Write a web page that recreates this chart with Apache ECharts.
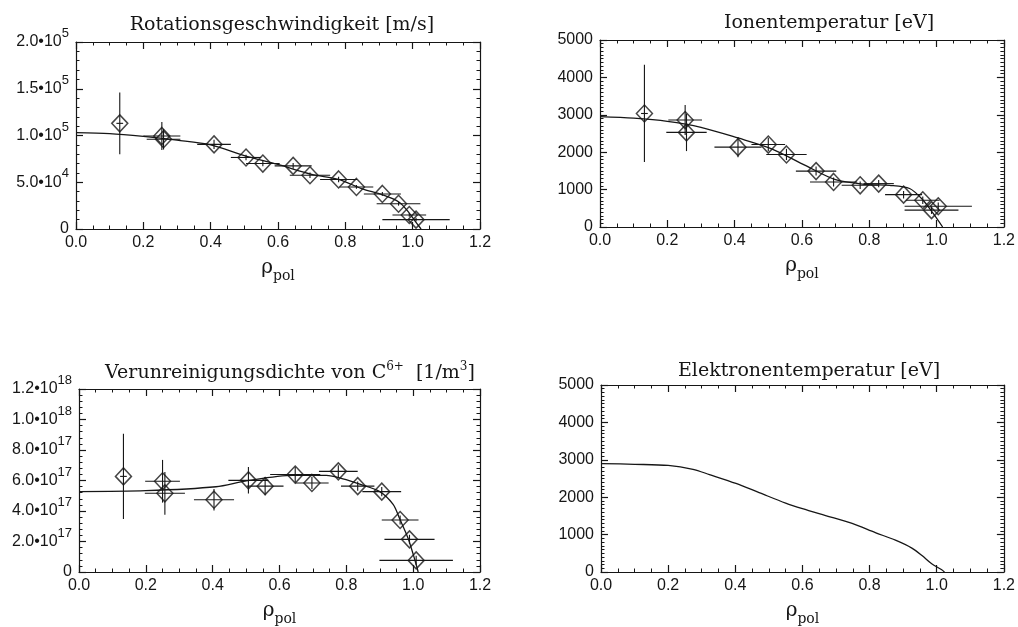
<!DOCTYPE html>
<html>
<head>
<meta charset="utf-8">
<script src="https://cdn.jsdelivr.net/npm/echarts@6/dist/echarts.min.js"></script>
<style>html,body{margin:0;padding:0;background:#fff}#c{width:1018px;height:627px}</style>
</head>
<body>
<div id="c"></div>
<script>
// ---------- data ----------
const xTicks = [0, 0.2, 0.4, 0.6, 0.8, 1.0, 1.2];

// Rotationsgeschwindigkeit [m/s]
const rotX    = [0.13, 0.255, 0.26, 0.41, 0.505, 0.555, 0.645, 0.695, 0.78, 0.833, 0.91, 0.958, 0.99, 1.01];
const rotY    = [1.13e5, 0.995e5, 0.96e5, 0.905e5, 0.765e5, 0.70e5, 0.675e5, 0.575e5, 0.53e5, 0.45e5, 0.375e5, 0.27e5, 0.15e5, 0.10e5];
const rotXErr = [0.01, 0.055, 0.05, 0.05, 0.045, 0.05, 0.055, 0.06, 0.055, 0.05, 0.055, 0.065, 0.05, 0.1];
const rotYErr = [0.33e5, 0.15e5, 0.11e5, 0.05e5, 0.03e5, 0.03e5, 0.03e5, 0.03e5, 0.03e5, 0.02e5, 0.02e5, 0.02e5, 0.02e5, 0.02e5];
const rotFitX = [0, 0.1, 0.2, 0.3, 0.4, 0.5, 0.6, 0.7, 0.78, 0.85, 0.91, 0.96, 0.99, 1.01, 1.025];
const rotFitY = [1.03e5, 1.02e5, 0.99e5, 0.95e5, 0.90e5, 0.785e5, 0.69e5, 0.585e5, 0.53e5, 0.43e5, 0.366e5, 0.287e5, 0.17e5, 0.07e5, 0];

// Ionentemperatur [eV]
const tiX    = [0.132, 0.253, 0.257, 0.41, 0.50, 0.554, 0.642, 0.694, 0.773, 0.828, 0.902, 0.959, 0.985, 1.005];
const tiY    = [3035, 2860, 2530, 2135, 2205, 1940, 1495, 1205, 1115, 1160, 865, 715, 450, 555];
const tiXErr = [0.01, 0.05, 0.06, 0.07, 0.05, 0.06, 0.06, 0.07, 0.055, 0.045, 0.055, 0.05, 0.08, 0.1];
const tiYErr = [1300, 400, 500, 270, 180, 150, 120, 120, 100, 100, 100, 100, 100, 100];
const tiFitX = [0, 0.1, 0.2, 0.3, 0.41, 0.51, 0.61, 0.7, 0.79, 0.86, 0.92, 0.96, 0.99, 1.018];
const tiFitY = [2950, 2910, 2825, 2665, 2380, 2090, 1646, 1265, 1140, 1115, 1030, 717, 363, 0];

// Verunreinigungsdichte von C6+ [1/m3]
const niX    = [0.133, 0.25, 0.257, 0.404, 0.507, 0.557, 0.647, 0.697, 0.776, 0.834, 0.906, 0.961, 0.989, 1.009];
const niY    = [6.27e17, 5.95e17, 5.16e17, 4.74e17, 6.01e17, 5.63e17, 6.39e17, 5.84e17, 6.6e17, 5.63e17, 5.27e17, 3.41e17, 2.14e17, 0.76e17];
const niXErr = [0.01, 0.052, 0.06, 0.06, 0.06, 0.055, 0.075, 0.05, 0.058, 0.05, 0.058, 0.055, 0.075, 0.11];
const niYErr = [2.8e17, 1.4e17, 1.4e17, 0.7e17, 0.87e17, 0.6e17, 0.5e17, 0.4e17, 0.4e17, 0.3e17, 0.3e17, 0.3e17, 0.3e17, 0.3e17];
const niFitX = [0, 0.2, 0.41, 0.5, 0.64, 0.74, 0.79, 0.84, 0.9, 0.94, 0.96, 0.985, 1.006, 1.015];
const niFitY = [5.27e17, 5.33e17, 5.59e17, 5.97e17, 6.33e17, 6.33e17, 6.11e17, 5.76e17, 5.27e17, 4.43e17, 3.47e17, 2.2e17, 0.72e17, 0];

// Elektronentemperatur [eV]
const teFitX = [0, 0.1, 0.2, 0.274, 0.323, 0.402, 0.471, 0.55, 0.6, 0.669, 0.748, 0.817, 0.877, 0.926, 0.956, 0.985, 1.015, 1.023];
const teFitY = [2900, 2880, 2850, 2746, 2605, 2368, 2123, 1842, 1693, 1509, 1298, 1053, 851, 640, 439, 219, 61, 0];

const titles = [
  '{t|Rotationsgeschwindigkeit [m/s]}',
  '{t|Ionentemperatur [eV]}',
  '{t|Verunreinigungsdichte von C}{u|6+}{t|  [1/m}{u|3}{t|]}',
  '{t|Elektronentemperatur [eV]}'
];

// ---------- layout / style ----------
const INK = '#161616';
const SANS = 'Liberation Sans';
const SERIF = 'DejaVu Serif';
const grids = [
  {left: 76, top: 42, width: 404, height: 187},
  {left: 600, top: 40, width: 405, height: 187},
  {left: 79, top: 389, width: 401, height: 189},
  {left: 601, top: 385, width: 405, height: 190}
];
const yCfg = [
  {max: 2e5, interval: 5e4, minor: 5, sci: true},
  {max: 5000, interval: 1000, minor: 10, sci: false},
  {max: 1.2e18, interval: 2e17, minor: 5, sci: true},
  {max: 5000, interval: 1000, minor: 10, sci: false}
];
const titlePos = [
  {x: 277, y: 11}, {x: 824, y: 9}, {x: 285, y: 356}, {x: 804, y: 357}
];

function sciFmt(v) {
  if (v === 0) return '0';
  const e = Math.floor(Math.log10(v) + 1e-9);
  const m = v / Math.pow(10, e);
  return m.toFixed(1) + '•10{e|' + e + '}';
}
const lineSt = {color: INK, width: 1.2};

const xAxes = [], yAxes = [];
grids.forEach((g, i) => {
  const base = {
    gridIndex: i, type: 'value', min: 0, max: 1.2, interval: 0.2,
    axisLine: {show: true, onZero: false, lineStyle: lineSt},
    axisTick: {show: true, inside: true, length: 7, lineStyle: lineSt},
    minorTick: {show: true, splitNumber: 4, length: 3.5, lineStyle: {color: INK, width: 1}},
    splitLine: {show: false}
  };
  xAxes.push(Object.assign({}, base, {
    position: 'bottom',
    axisLabel: {show: true, fontFamily: SANS, fontSize: 16, color: INK, margin: 6,
      formatter: v => v.toFixed(1)},
    name: '{r|ρ}{s|pol}', nameLocation: 'middle', nameGap: 29,
    nameTextStyle: {rich: {
      r: {fontFamily: SERIF, fontSize: 20, color: INK, verticalAlign: 'bottom', padding: [0, 0, 5, 0]},
      s: {fontFamily: SERIF, fontSize: 14, color: INK, verticalAlign: 'bottom'}
    }}
  }));
  xAxes.push(Object.assign({}, base, {position: 'top', axisLabel: {show: false}}));
  const yc = yCfg[i];
  const ybase = {
    gridIndex: i, type: 'value', min: 0, max: yc.max, interval: yc.interval,
    axisLine: {show: true, onZero: false, lineStyle: lineSt},
    axisTick: {show: true, inside: true, length: 7, lineStyle: lineSt},
    minorTick: {show: true, splitNumber: yc.minor, length: 3.5, lineStyle: {color: INK, width: 1}},
    splitLine: {show: false}
  };
  yAxes.push(Object.assign({}, ybase, {
    position: 'left',
    axisLabel: {show: true, margin: 7, color: INK, fontFamily: SANS, fontSize: 16,
      verticalAlign: 'bottom', lineHeight: 16, padding: [0, 0, -8, 0],
      formatter: yc.sci ? sciFmt : (v => String(v)),
      rich: {
        e: {fontFamily: SANS, fontSize: 13, color: INK, verticalAlign: 'bottom', lineHeight: 13, padding: [0, 0, 10, 0]}
      }}
  }));
  yAxes.push(Object.assign({}, ybase, {position: 'right', axisLabel: {show: false}}));
});

function errSeries(i, xs, ys, xe, ye) {
  return {
    type: 'custom', xAxisIndex: 2 * i, yAxisIndex: 2 * i, silent: true,
    data: xs.map((x, k) => [x, ys[k], xe[k], ye[k]]),
    renderItem: function (params, api) {
      const x = api.value(0), y = api.value(1), dx = api.value(2), dy = api.value(3);
      const c = api.coord([x, y]);
      const l = api.coord([x - dx, y]), r = api.coord([x + dx, y]);
      const t = api.coord([x, y + dy]), b = api.coord([x, y - dy]);
      const st = {stroke: INK, lineWidth: 1.1};
      return {type: 'group', children: [
        {type: 'line', shape: {x1: l[0], y1: c[1], x2: r[0], y2: c[1]}, style: st},
        {type: 'line', shape: {x1: c[0], y1: t[1], x2: c[0], y2: b[1]}, style: st}
      ]};
    }
  };
}
function ptSeries(i, xs, ys) {
  return {
    type: 'scatter', xAxisIndex: 2 * i, yAxisIndex: 2 * i, silent: true,
    symbol: 'diamond', symbolSize: [16, 17],
    itemStyle: {color: 'rgba(0,0,0,0)', borderColor: INK, borderWidth: 1.5},
    data: xs.map((x, k) => [x, ys[k]])
  };
}
function fitSeries(i, xs, ys) {
  return {
    type: 'line', xAxisIndex: 2 * i, yAxisIndex: 2 * i, silent: true,
    showSymbol: false, smooth: 0.3,
    lineStyle: {color: INK, width: 1.3},
    data: xs.map((x, k) => [x, ys[k]])
  };
}

const series = [
  fitSeries(0, rotFitX, rotFitY), errSeries(0, rotX, rotY, rotXErr, rotYErr), ptSeries(0, rotX, rotY),
  fitSeries(1, tiFitX, tiFitY), errSeries(1, tiX, tiY, tiXErr, tiYErr), ptSeries(1, tiX, tiY),
  fitSeries(2, niFitX, niFitY), errSeries(2, niX, niY, niXErr, niYErr), ptSeries(2, niX, niY),
  fitSeries(3, teFitX, teFitY)
];

const titleOpts = titles.map((t, i) => ({
  text: t, left: titlePos[i].x, top: titlePos[i].y, textAlign: 'center',
  textStyle: {fontWeight: 'normal', fontFamily: SERIF, fontSize: 19, rich: {
    t: {fontFamily: SERIF, fontSize: 19, fontWeight: 'normal', color: INK, verticalAlign: 'bottom'},
    u: {fontFamily: SERIF, fontSize: 12, fontWeight: 'normal', color: INK, verticalAlign: 'bottom', padding: [0, 0, 10, 0]}
  }}
}));

const chart = echarts.init(document.getElementById('c'), null, {renderer: 'canvas'});
chart.setOption({
  backgroundColor: '#fff',
  animation: false,
  title: titleOpts,
  grid: grids,
  xAxis: xAxes,
  yAxis: yAxes,
  series: series
});
</script>
</body>
</html>
